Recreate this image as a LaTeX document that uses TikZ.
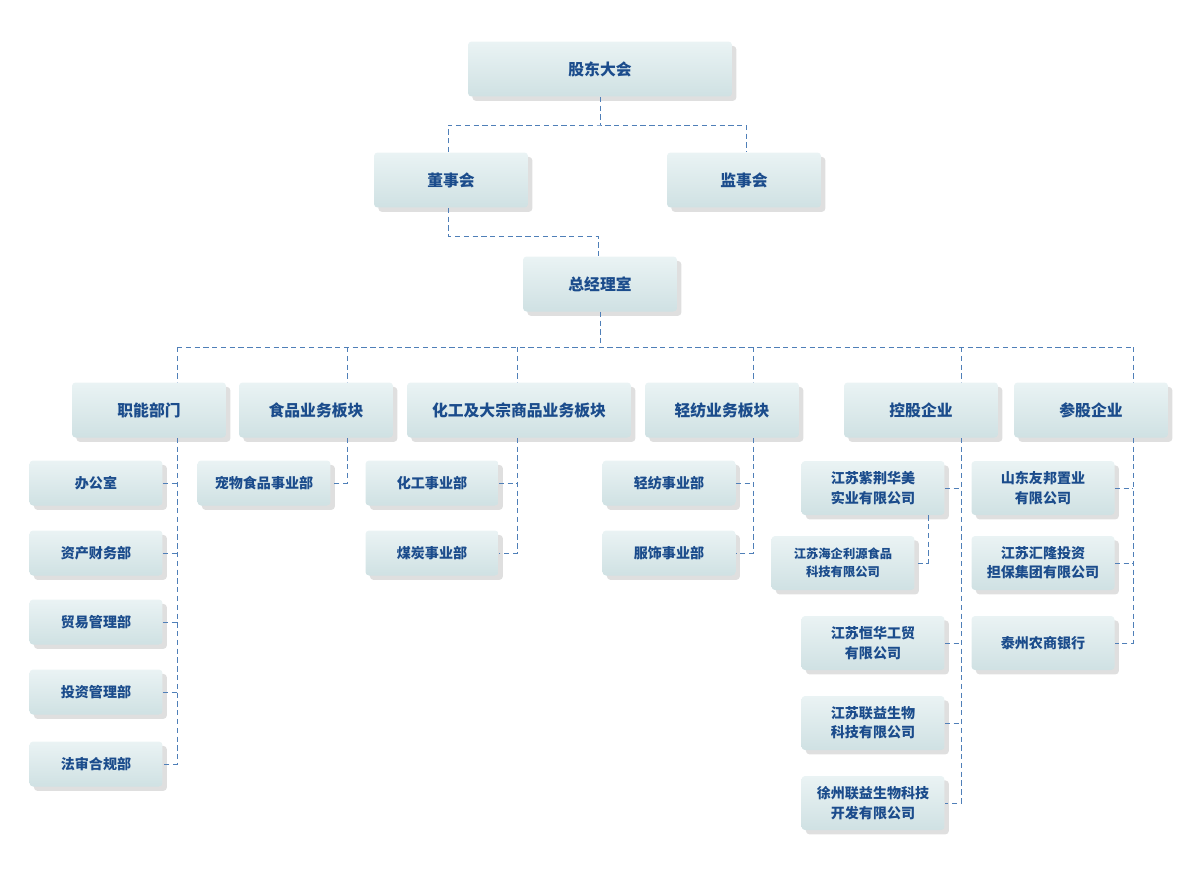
\documentclass[tikz,border=0pt]{standalone}
\usepackage{fontspec}
\setmainfont{Noto Sans CJK SC}
\usetikzlibrary{shadows}
\definecolor{boxtop}{HTML}{EAF3F4}
\definecolor{boxbot}{HTML}{CFE1E3}
\definecolor{txtblue}{HTML}{1B4C8C}
\definecolor{lineblue}{HTML}{4F7FB8}
\begin{document}
\begin{tikzpicture}[x=0.02cm,y=-0.02cm]
\tikzstyle{box} = [rectangle, rounded corners=2pt, minimum width=3.08cm, minimum height=1.1cm, text centered, align=center,
  top color=boxtop, bottom color=boxbot, draw=none, text=txtblue, font=\bfseries\fontsize{9}{11}\selectfont,
  drop shadow={shadow xshift=2.5pt, shadow yshift=-2.5pt, opacity=0.25, fill=gray}]
\tikzstyle{sub} = [box, minimum width=2.66cm, minimum height=0.9cm, font=\bfseries\fontsize{8}{11}\selectfont]
\tikzstyle{corp} = [sub, minimum width=2.86cm, minimum height=1.08cm]
\tikzstyle{conn} = [lineblue, densely dashed, line width=0.5pt]

    \useasboundingbox (0,0) rectangle (1200,876);

    % top levels
    \node (gd) at (600, 69) [box, minimum width=5.28cm] {股东大会};
    \node (dsh) at (451, 180) [box] {董事会};
    \node (jsh) at (744, 180) [box] {监事会};
    \node (zjl) at (600, 284) [box] {总经理室};

    % sectors
    \node (zn) at (149, 410) [box] {职能部门};
    \node (sp) at (316, 410) [box] {食品业务板块};
    \node (hg) at (519, 410) [box, minimum width=4.48cm] {化工及大宗商品业务板块};
    \node (qf) at (722, 410) [box] {轻纺业务板块};
    \node (kg) at (921, 410) [box] {控股企业};
    \node (cg) at (1091, 410) [box] {参股企业};

    % departments
    \node (bgs) at (96, 483) [sub] {办公室};
    \node (zc) at (96, 553) [sub] {资产财务部};
    \node (my) at (96, 622) [sub] {贸易管理部};
    \node (tz) at (96, 692) [sub] {投资管理部};
    \node (fs) at (96, 764) [sub] {法审合规部};
    \node (cw) at (264, 483) [sub] {宠物食品事业部};
    \node (hgb) at (432, 483) [sub] {化工事业部};
    \node (mt) at (432, 553) [sub] {煤炭事业部};
    \node (qfb) at (669, 483) [sub] {轻纺事业部};
    \node (fsb) at (669, 553) [sub] {服饰事业部};

    % companies
    \node (zj) at (873, 488) [corp] {江苏紫荆华美\\实业有限公司};
    \node (hq) at (843, 563) [corp, font=\bfseries\fontsize{7}{10}\selectfont] {江苏海企利源食品\\科技有限公司};
    \node (hh) at (873, 643) [corp] {江苏恒华工贸\\有限公司};
    \node (ly) at (873, 723) [corp] {江苏联益生物\\科技有限公司};
    \node (xz) at (873, 803) [corp] {徐州联益生物科技\\开发有限公司};
    \node (yb) at (1043, 488) [corp] {山东友邦置业\\有限公司};
    \node (hl) at (1043, 563) [corp] {江苏汇隆投资\\担保集团有限公司};
    \node (tzy) at (1043, 643) [corp] {泰州农商银行};

    % bus lines
    \coordinate (t1) at (600, 125);
    \coordinate (t2) at (598, 236);
    \coordinate (bus) at (600, 347);
    \coordinate (c1) at (177, 347);
    \coordinate (c2) at (347, 347);
    \coordinate (c3) at (517, 347);
    \coordinate (c4) at (753, 347);
    \coordinate (c5) at (961, 347);
    \coordinate (c6) at (1133, 347);
    \coordinate (c7) at (928, 0);

    \draw [conn] (gd.south) -- (t1);
    \draw [conn] (dsh.north -| 448,0) |- (t1) -| (jsh.north -| 746,0);
    \draw [conn] (dsh.south -| 448,0) |- (t2) -- (zjl.north -| t2);
    \draw [conn] (zjl.south) -- (bus);
    \draw [conn] (c1) -- (c6);
    \foreach \c/\n in {c1/zn, c2/sp, c3/hg, c4/qf, c5/kg, c6/cg}
        \draw [conn] (\c) -- (\n.north -| \c);

    \draw [conn] (zn.south -| c1) |- (fs.east);
    \foreach \n in {bgs, zc, my, tz}
        \draw [conn] (\n.east) -- (\n.east -| c1);
    \draw [conn] (sp.south -| c2) |- (cw.east);
    \draw [conn] (hg.south -| c3) |- (mt.east);
    \draw [conn] (hgb.east) -- (hgb.east -| c3);
    \draw [conn] (qf.south -| c4) |- (fsb.east);
    \draw [conn] (qfb.east) -- (qfb.east -| c4);
    \draw [conn] (kg.south -| c5) |- (xz.east);
    \foreach \n in {zj, hh, ly}
        \draw [conn] (\n.east) -- (\n.east -| c5);
    \draw [conn] (zj.south -| c7) |- (hq.east);
    \draw [conn] (cg.south -| c6) |- (tzy.east);
    \foreach \n in {yb, hl}
        \draw [conn] (\n.east) -- (\n.east -| c6);
\end{tikzpicture}
\end{document}
